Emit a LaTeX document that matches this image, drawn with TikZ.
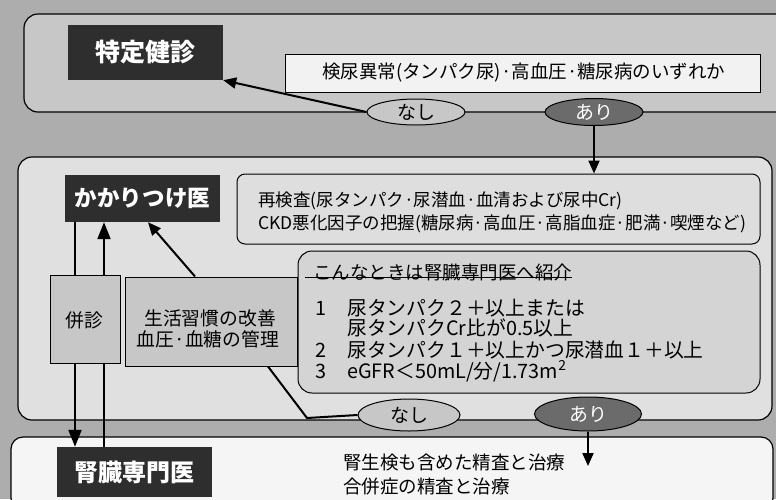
\documentclass[tikz,border=0pt]{standalone}
\usepackage{fontspec}
\newfontfamily\jp{Noto Sans CJK JP}
\usetikzlibrary{arrows.meta,shapes.geometric,calc}
\definecolor{bgc}{gray}{0.68}
\tikzset{
  panel/.style={draw=black, line width=1.2pt, rounded corners=14pt},
  darkbox/.style={fill=black!82, text=white, inner sep=0pt, font=\jp\bfseries},
  tbox/.style={draw=black, line width=1pt, inner sep=0pt},
  txt/.style={inner sep=0pt, anchor=west, font=\jp\fontsize{18.5}{21}\selectfont},
  itemtxt/.style={inner sep=0pt, anchor=west, font=\jp\fontsize{19.8}{22}\selectfont},
  txtc/.style={inner sep=0pt, font=\jp\fontsize{18.8}{21}\selectfont},
  smalltxt/.style={inner sep=0pt, anchor=west, font=\jp\fontsize{17.5}{20}\selectfont},
  oval/.style={ellipse, draw=black, line width=1pt, inner sep=0pt, font=\jp\fontsize{19}{21}\selectfont},
  nashi/.style={oval, fill=black!22},
  ari/.style={oval, fill=black!58, text=white},
  conn/.style={line width=2pt},
  arr/.style={line width=2pt, -{Triangle[length=13pt,width=11pt]}},
  bigarr/.style={line width=2.2pt, -{Triangle[length=17pt,width=13pt]}}
}
\begin{document}
\begin{tikzpicture}[x=1pt,y=-1pt]
\useasboundingbox (0,0) rectangle (776,499);
\clip (0,0) rectangle (776,499);
\fill[bgc] (0,0) rectangle (776,499);

% panels
\node[panel, fill=black!22, minimum width=776pt, minimum height=98pt] (ptop) at (412,63) {};
\node[panel, fill=black!12, minimum width=754pt, minimum height=263pt] (pmid) at (395,288.5) {};
\node[panel, fill=black!4, minimum width=762pt, minimum height=73pt, rounded corners=12pt] (pbot) at (392,473.5) {};

% --- top section
\node[darkbox, minimum width=155pt, minimum height=55pt, font=\jp\bfseries\fontsize{25}{27}\selectfont] (tokutei) at (145.5,52.5) {特定健診};
\node[tbox, fill=black!5, minimum width=475pt, minimum height=38pt] (kennyo) at (522.5,73) {};
\node[txt] (kennyot) at (322,73) {検尿異常(タンパク尿)·高血圧·糖尿病のいずれか};
\node[nashi, minimum width=98pt, minimum height=26pt] (nashi1) at (416,112) {なし};
\node[ari, minimum width=98pt, minimum height=27pt] (ari1) at (594,112) {あり};

% --- middle section
\coordinate (xa) at (75,0);
\coordinate (xb) at (104,0);
\coordinate (xc1) at (195,0);
\coordinate (xc2) at (148,0);
\coordinate (xd) at (268,0);
\coordinate (kink) at (307,418);

\node[darkbox, minimum width=155pt, minimum height=47pt, font=\jp\bfseries\fontsize{22.5}{25}\selectfont] (kakari) at (142.5,198.5) {かかりつけ医};
\node[darkbox, minimum width=155pt, minimum height=50pt, font=\jp\bfseries\fontsize{24}{26}\selectfont] (jinzo) at (134.5,472) {腎臓専門医};

% lines passing behind the boxes
\draw[bigarr] (kakari.south -| xa) -- (jinzo.north -| xa);
\draw[bigarr] (jinzo.north -| xb) -- (kakari.south -| xb);

\node[tbox, fill=black!13, rounded corners=8pt, minimum width=523pt, minimum height=70pt] (saiken) at (498.5,209) {};
\node[smalltxt] (saikent1) at (258,201) {再検査(尿タンパク·尿潜血·血清および尿中Cr)};
\node[smalltxt] (saikent2) at (258,224) {CKD悪化因子の把握(糖尿病·高血圧·高脂血症·肥満·喫煙など)};

\node[tbox, fill=black!17, rounded corners=14pt, minimum width=462pt, minimum height=142pt] (konna) at (529,322) {};
\node[txt] (konnat) at (313,272) {こんなときは腎臓専門医へ紹介};
\draw[line width=1pt] ($(konnat.south west)+(-8,-3)$) -- ($(konnat.south east)+(0,-3)$);
\node[itemtxt] (n1) at (315,308) {1};
\node[itemtxt] (c1a) at (347,308) {尿タンパク２＋以上または};
\node[itemtxt] (c1b) at (347,328) {尿タンパクCr比が0.5以上};
\node[itemtxt] (n2) at (315,350) {2};
\node[itemtxt] (c2) at (347,350) {尿タンパク１＋以上かつ尿潜血１＋以上};
\node[itemtxt] (n3) at (315,371) {3};
\node[itemtxt] (c3) at (347,371) {eGFR＜50mL/分/1.73m\textsuperscript{2}};

\node[tbox, fill=black!22, minimum width=70pt, minimum height=88pt] (heishin) at (85,319) {};
\node[txtc] (heishint) at (84,320) {併診};
\node[tbox, fill=black!22, minimum width=172pt, minimum height=89pt] (seikatsu) at (211,321.5) {};
\node[txtc] (seik1) at (210,318) {生活習慣の改善};
\node[txtc] (seik2) at (208,339) {血圧·血糖の管理};

\node[nashi, minimum width=102pt, minimum height=32pt] (nashi2) at (409,415) {なし};
\node[ari, minimum width=107pt, minimum height=34pt] (ari2) at (588,414) {あり};
\coordinate (ariend) at (588,466);

% connectors
\draw[arr] (nashi1.west) -- (tokutei.south east);
\draw[arr] (ari1.south) -- (ari1.south |- saiken.north);
\draw[arr] (seikatsu.north -| xc1) -- (kakari.south -| xc2);
\draw[conn] (nashi2.west) -- (kink) -- (seikatsu.south -| xd);
\draw[arr] (ari2.south) -- (ariend);

% --- bottom section
\node[txt] (bot1) at (343,462) {腎生検も含めた精査と治療};
\node[txt] (bot2) at (343,487) {合併症の精査と治療};
\end{tikzpicture}
\end{document}
